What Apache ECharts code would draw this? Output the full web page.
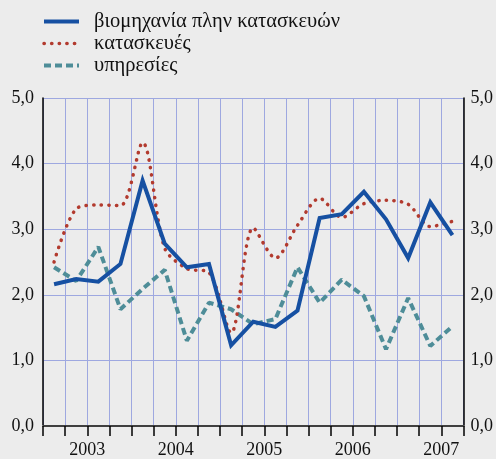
<!DOCTYPE html>
<html>
<head>
<meta charset="utf-8">
<script src="https://cdn.jsdelivr.net/npm/echarts@6/dist/echarts.min.js"></script>
<style>
  html, body { margin: 0; padding: 0; background: #ececec; }
  #chart { width: 496px; height: 459px; }
</style>
</head>
<body>
<div id="chart"></div>
<script>
// Quarterly observations, 2003 Q1 – 2007 Q3
const quarters = [
  '2003 Q1', '2003 Q2', '2003 Q3', '2003 Q4',
  '2004 Q1', '2004 Q2', '2004 Q3', '2004 Q4',
  '2005 Q1', '2005 Q2', '2005 Q3', '2005 Q4',
  '2006 Q1', '2006 Q2', '2006 Q3', '2006 Q4',
  '2007 Q1', '2007 Q2', '2007 Q3'
];
const years = ['2003', '2004', '2005', '2006', '2007'];

const seriesNames = ['βιομηχανία πλην κατασκευών', 'κατασκευές', 'υπηρεσίες'];

const industry = [2.16, 2.24, 2.20, 2.47, 3.74, 2.78, 2.42, 2.47, 1.23, 1.59,
                  1.51, 1.76, 3.17, 3.23, 3.57, 3.15, 2.56, 3.41, 2.91];
const construction = [2.50, 3.31, 3.37, 3.36, 4.32, 2.71, 2.40, 2.34, 1.42, 3.02,
                      2.56, 3.06, 3.47, 3.18, 3.39, 3.44, 3.38, 3.04, 3.12];
const services = [2.42, 2.21, 2.73, 1.78, 2.09, 2.38, 1.30, 1.88, 1.78, 1.55,
                  1.63, 2.42, 1.88, 2.23, 1.98, 1.17, 1.95, 1.22, 1.52];

const yTicks = [0, 1, 2, 3, 4, 5];

const FONT = "'Liberation Serif', 'DejaVu Serif', serif";
const fmt = v => v.toFixed(1).replace('.', ',');

const COLORS = ['#1650a2', '#b23a2e', '#4e8d98'];
const STYLES = [
  { color: COLORS[0], width: 4, join: 'miter' },
  { color: COLORS[1], width: 3.5, type: [0.3, 7.3], cap: 'round' },
  { color: COLORS[2], width: 4, type: [7, 4] }
];

// year labels sit in the middle of each four-quarter block
const yearPositions = years.map((y, i) => 2 + 4 * i);

const chart = echarts.init(document.getElementById('chart'), null, { renderer: 'canvas' });

chart.setOption({
  backgroundColor: '#ececec',
  animation: false,
  legend: {
    orient: 'vertical',
    left: 42,
    top: 11,
    padding: 0,
    itemWidth: 35,
    itemHeight: 14,
    itemGap: 1,
    data: seriesNames.map((name, i) => ({ name, lineStyle: STYLES[i] })),
    itemStyle: { opacity: 0 },
    textStyle: {
      fontFamily: FONT,
      fontSize: 20.5,
      lineHeight: 20,
      color: '#111',
      padding: [0, 0, 0, 10]
    }
  },
  grid: { left: 43, right: 31, top: 98, bottom: 31 },
  xAxis: [
    {
      type: 'category',
      data: quarters,
      boundaryGap: true,
      position: 'bottom',
      axisLine: { show: true, lineStyle: { color: '#ffffff', width: 2 } },
      axisTick: { show: false },
      axisLabel: { show: false },
      splitLine: { show: false }
    },
    {
      type: 'value',
      min: 0,
      max: quarters.length,
      interval: 1,
      position: 'bottom',
      offset: 3,
      axisLine: { show: true, lineStyle: { color: '#000', width: 1.5 } },
      axisTick: { show: true, length: 10, lineStyle: { color: '#000', width: 1.5 } },
      splitLine: { show: true, lineStyle: { color: '#9ea8e0', width: 1 } },
      axisLabel: {
        customValues: yearPositions,
        formatter: v => years[(v - 2) / 4],
        fontFamily: FONT,
        fontSize: 18,
        color: '#111',
        margin: 12
      }
    }
  ],
  yAxis: [
    {
      type: 'value',
      min: yTicks[0],
      max: yTicks[yTicks.length - 1],
      interval: 1,
      position: 'left',
      axisLine: { show: true, lineStyle: { color: '#000', width: 1.5 } },
      axisTick: { show: false },
      splitLine: { show: true, lineStyle: { color: '#9ea8e0', width: 1 } },
      axisLabel: { formatter: fmt, fontFamily: FONT, fontSize: 18, color: '#111', margin: 9 }
    },
    {
      type: 'value',
      min: yTicks[0],
      max: yTicks[yTicks.length - 1],
      interval: 1,
      position: 'right',
      axisLine: { show: true, lineStyle: { color: '#000', width: 1.5 } },
      axisTick: { show: false },
      splitLine: { show: false },
      axisLabel: { formatter: fmt, fontFamily: FONT, fontSize: 18, color: '#111', margin: 7 }
    }
  ],
  series: [
    {
      name: seriesNames[0],
      type: 'line',
      data: industry,
      symbol: 'none',
      z: 4,
      lineStyle: STYLES[0],
      itemStyle: { color: COLORS[0] }
    },
    {
      name: seriesNames[1],
      type: 'line',
      data: construction,
      symbol: 'none',
      smooth: 0.3,
      z: 3,
      lineStyle: STYLES[1],
      itemStyle: { color: COLORS[1] }
    },
    {
      name: seriesNames[2],
      type: 'line',
      data: services,
      symbol: 'none',
      z: 2,
      lineStyle: STYLES[2],
      itemStyle: { color: COLORS[2] }
    }
  ]
});
</script>
</body>
</html>
